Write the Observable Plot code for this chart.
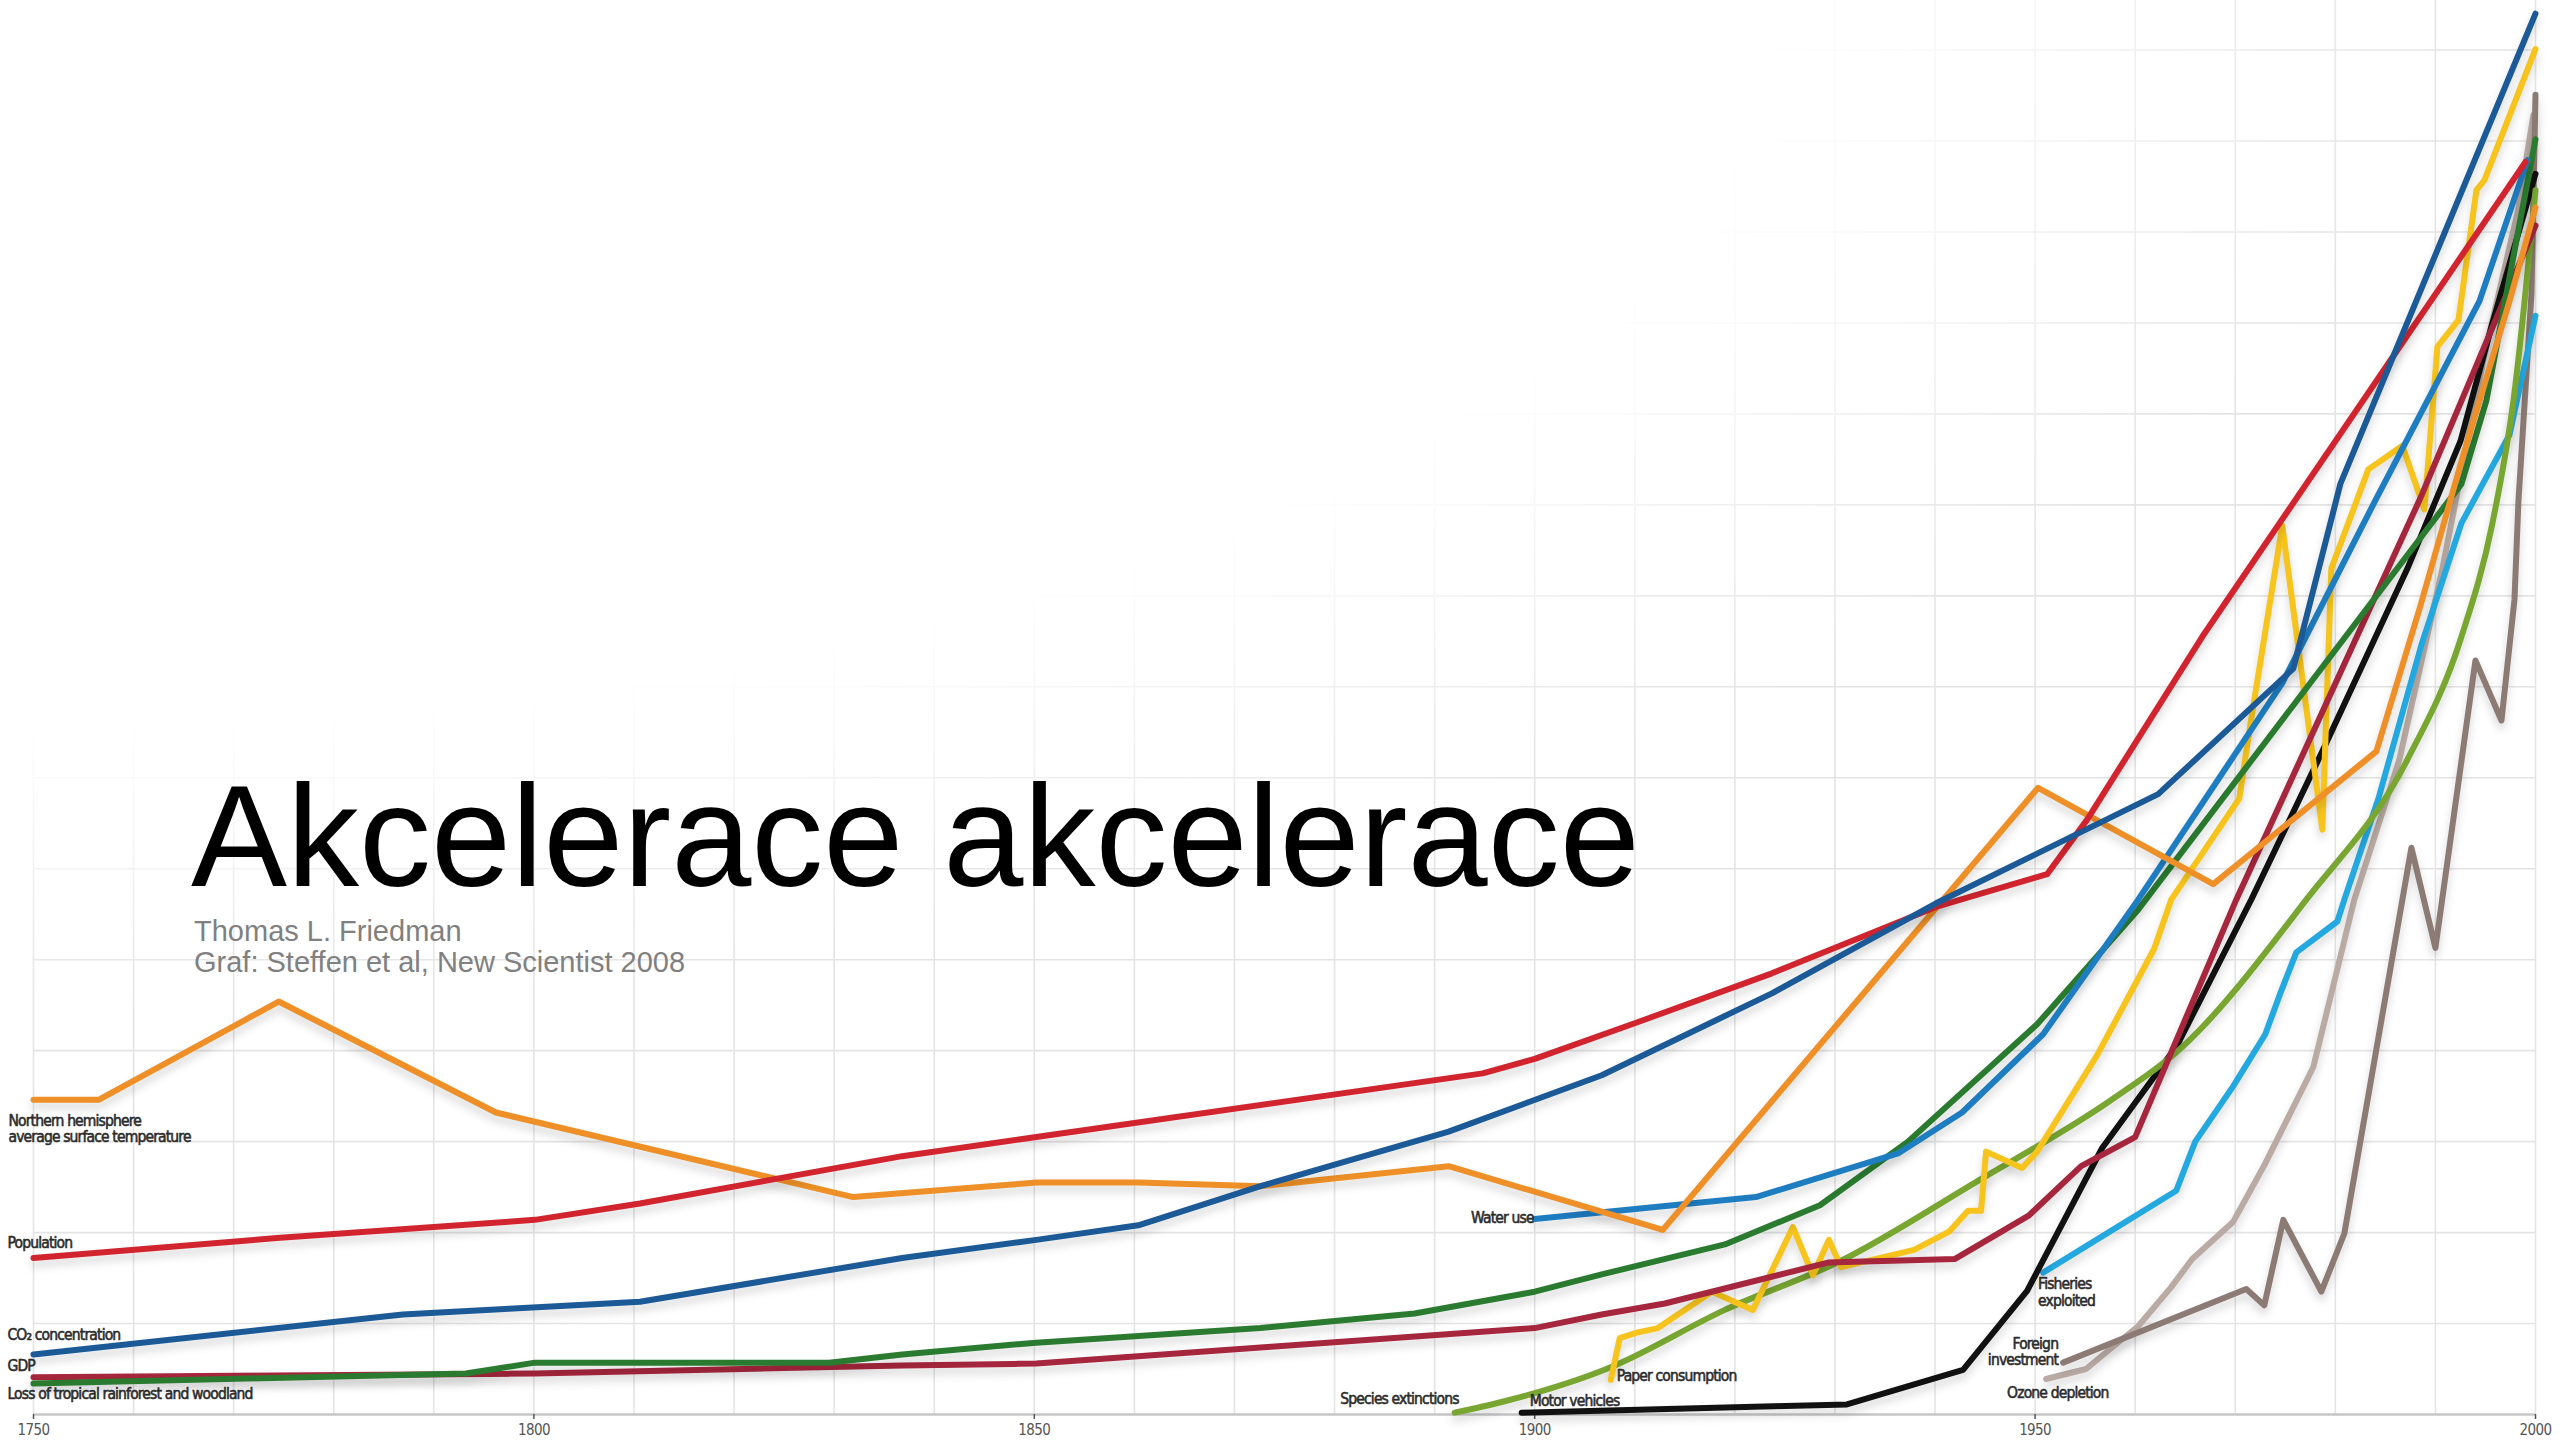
<!DOCTYPE html>
<html><head><meta charset="utf-8">
<script src="https://cdn.jsdelivr.net/npm/d3@7"></script>
<script src="https://cdn.jsdelivr.net/npm/@observablehq/plot@0.6"></script>
<style>
html,body{margin:0;padding:0;background:#fff;}
#wrap{position:relative;width:2560px;height:1440px;overflow:hidden;background:#fff;}
#title{position:absolute;left:191px;top:765px;font-family:"Liberation Sans",Arial,sans-serif;font-size:144px;line-height:144px;color:#000;white-space:nowrap;}
#sub{position:absolute;left:194px;top:916px;font-family:"Liberation Sans",Arial,sans-serif;font-size:29px;line-height:31px;color:#808080;white-space:nowrap;}
.series path{filter:drop-shadow(0px 6px 4px rgba(0,0,0,0.16));}
.lbl text{letter-spacing:-0.85px;}
.tk text{letter-spacing:-0.6px;}
</style></head>
<body>
<div id="wrap"><div id="chart"></div>
<div id="title">Akcelerace akcelerace</div>
<div id="sub">Thomas L. Friedman<br>Graf: Steffen et al, New Scientist 2008</div>
</div>
<script>
// ---- data (year, index value) ----
const temperature = [[1750,34.6],[1756.5,34.6],[1774.5,45.4],[1796.2,33.2],[1831.9,23.9],[1850.2,25.5],[1860.4,25.5],[1872.6,25.1],[1891.4,27.3],[1912.8,20.3],[1950.3,68.9],[1967.8,58.3],[1984.1,72.9],[1988.5,88.9],[1992.6,104.8],[1997.4,122.4],[2000,132.7]];
const population = [[1750,17.2],[1774.3,19.4],[1800.1,21.4],[1810.6,23.2],[1836.8,28.4],[1850.2,30.5],[1894.8,37.5],[1900,39.1],[1910.2,43.1],[1923.7,48.5],[1940.1,55.8],[1951.2,59.4],[1955.2,65.4],[1966.7,85.5],[1999,137.7]];
const co2 = [[1750,6.6],[1786.9,11.0],[1810.6,12.4],[1836.8,17.2],[1850.2,19.2],[1860.4,20.8],[1872.6,25.1],[1891.4,31.1],[1906.7,37.3],[1923.7,46.3],[1940.1,56.2],[1962.3,68.2],[1975.8,82.0],[1980.5,102.3],[2000,154.0]];
const waterUse = [[1900,21.5],[1922.1,23.9],[1936.3,28.7],[1942.7,33.2],[1950.8,41.8],[1960.3,56.6],[1974.7,80.4],[1984,100.5],[1994.4,122.4],[1999.2,137.9]];
const gdp = [[1750,4.1],[1800.1,4.5],[1836.8,5.4],[1850.2,5.6],[1900,9.5],[1906.7,11.0],[1913,12.2],[1929.3,16.7],[1942,17.1],[1949.4,21.9],[1954.6,27.3],[1960,30.5],[1970.1,56.6],[1988.4,100.5],[2000,130.7]];
const rainforest = [[1750,3.4],[1793.2,4.5],[1800.1,5.7],[1829.5,5.7],[1836.8,6.6],[1850.2,7.9],[1872.6,9.5],[1888,11.1],[1900,13.5],[1906.7,15.4],[1919,18.7],[1928.5,23.0],[1937.3,30.0],[1950.2,42.9],[1960.3,55.5],[1992.6,102.3],[1995.1,111.5],[2000,140.2]];
const paper = [[1907.6,3.8],[1908.5,8.4],[1910.2,9.0],[1912.3,9.5],[1917.7,13.5],[1921.8,11.5],[1925.8,20.6],[1927.8,15.3],[1929.4,19.2],[1930.6,16.2],[1937.9,18.1],[1941.4,20.1],[1943.3,22.4],[1944.6,22.4],[1945.1,28.9],[1948.7,27.1],[1950.2,28.9],[1956.2,39.5],[1961.9,51.2],[1963.6,56.6],[1970.4,67.7],[1971.6,76.5],[1974.7,97.7],[1978.7,64.3],[1979.6,93.0],[1983.3,103.9],[1986.7,106.5],[1988.9,99.5],[1990.2,117.4],[1992.3,120.3],[1994.1,134.6],[1994.9,135.7],[2000,150.1]];
const species = [[1892,0.2],[1896.8,1.4],[1907.6,5.2],[1919,11.5],[1930.6,16.9],[1944,25.5],[1957.5,34.5],[1964.2,39.9],[1977.1,56.6],[1987.2,72.0],[1992.6,85.5],[1995.7,98.0],[1997.8,111.5],[2000,134.6]];
const motorVehicles = [[1898.7,0.2],[1931.2,1.1],[1942.8,4.9],[1949.2,13.6],[1956.7,29.3],[1964.2,40.6],[1971.6,56.6],[1978.7,72.9],[1987.2,93.0],[1992.5,107.0],[1995.6,119.6],[2000,136.4]];
const fisheries = [[1950.8,15.6],[1964.1,24.6],[1966,30.0],[1969.8,36.1],[1973,41.8],[1974.5,46.3],[1976.1,50.8],[1980.2,54.2],[1980.9,56.6],[1984.3,67.7],[1988.6,84.6],[1992.6,98.0],[1997.4,107.7],[2000,120.8]];
const foreignInvestment = [[1952.8,5.7],[1971.1,13.8],[1972.9,12.0],[1974.8,21.4],[1978.6,13.5],[1980.9,19.9],[1987.6,62.3],[1990,51.3],[1994,82.9],[1996.6,76.3],[1997.9,89.6],[1998.3,100.5],[1999.6,123.2],[2000,145.1]];
const ozone = [[1951.1,3.9],[1955.1,5.0],[1957.5,7.2],[1960.3,9.7],[1963.6,14.0],[1965.7,17.1],[1969.8,21.2],[1973,27.6],[1977.8,38.2],[1981.9,56.6],[1986.4,72.0],[1990.7,93.0],[1994.8,116.0],[1998.2,132.1],[1999.8,142.9]];

const axisYears = [1750, 1800, 1850, 1900, 1950, 2000];
const gridYears = [1750,1760,1770,1780,1790,1800,1810,1820,1830,1840,1850,1860,1870,1880,1890,1900,1910,1920,1930,1940,1950,1960,1970,1980,1990,2000];
const gridValues = [10,20,30,40,50,60,70,80,90,100,110,120,130,140,150];

// labels: text with the (year, value) where it sits
const labelsStart = [
  {text: "Northern hemisphere", year: 1747.5, value: 32.3},
  {text: "average surface temperature", year: 1747.5, value: 30.5},
  {text: "Population", year: 1747.4, value: 18.9},
  {text: "CO\u2082 concentration", year: 1747.4, value: 8.7},
  {text: "GDP", year: 1747.4, value: 5.3},
  {text: "Loss of tropical rainforest and woodland", year: 1747.4, value: 2.2},
  {text: "Paper consumption", year: 1908.2, value: 4.2},
  {text: "Motor vehicles", year: 1899.5, value: 1.5},
  {text: "Fisheries", year: 1950.3, value: 14.3},
  {text: "exploited", year: 1950.3, value: 12.5},
  {text: "Ozone depletion", year: 1947.2, value: 2.4}
];
const labelsEnd = [
  {text: "Water use", year: 1899.9, value: 21.6},
  {text: "Species extinctions", year: 1892.4, value: 1.7},
  {text: "Foreign", year: 1952.3, value: 7.8},
  {text: "investment", year: 1952.3, value: 6.0}
];

// ---- styles ----
const seriesStyle = [
  [ozone, "#B9ABA4"],
  [foreignInvestment, "#8C7B74"],
  [fisheries, "#23A8E0"],
  [motorVehicles, "#111111"],
  [species, "#78A631", "monotone-x"],
  [paper, "#F6C41C"],
  [gdp, "#A5263D"],
  [rainforest, "#2A7B30"],
  [waterUse, "#1E7CC0"],
  [temperature, "#EE9027"],
  [population, "#D1242F"],
  [co2, "#1B5A97"]
];

function fade(index, scales, values, dimensions, context) {
  const ns = "http://www.w3.org/2000/svg";
  const g = context.document.createElementNS(ns, "g");
  g.innerHTML = `<defs><radialGradient id="fadeGrad" cx="0" cy="0" r="1" gradientUnits="userSpaceOnUse" gradientTransform="scale(2450,1010)"><stop offset="0.72" stop-color="#fff" stop-opacity="1"/><stop offset="1" stop-color="#fff" stop-opacity="0"/></radialGradient></defs><rect x="0" y="0" width="${dimensions.width}" height="${dimensions.height}" fill="url(#fadeGrad)"/>`;
  return g;
}

const font = '"Liberation Sans Narrow","DejaVu Sans Condensed",sans-serif';
const labelStyle = {fontSize: 15.5, fill: "#2b2b2b", stroke: "#2b2b2b", strokeWidth: 0.55, className: "lbl"};

const chart = Plot.plot({
  width: 2560, height: 1440,
  marginLeft: 33, marginRight: 25, marginTop: 0, marginBottom: 26,
  style: {fontFamily: font, background: "transparent", overflow: "visible"},
  x: {domain: [1750, 2000], axis: null},
  y: {domain: [0, 155.45], axis: null},
  marks: [
    Plot.ruleX(gridYears, {stroke: "#e4e4e4", strokeWidth: 1.6}),
    Plot.ruleY(gridValues, {stroke: "#e4e4e4", strokeWidth: 1.6}),
    fade,
    Plot.ruleY([0], {stroke: "#c6c6c6", strokeWidth: 2.5}),
    Plot.axisX(axisYears, {tickFormat: d => String(d), tickSize: 5, tickPadding: 5, fontSize: 15, color: "#555", strokeWidth: 1.5, label: null, className: "tk"}),
    ...seriesStyle.map(([data, color, curve]) => Plot.line(data, {
      x: d => d[0], y: d => d[1], stroke: color, strokeWidth: 6,
      strokeLinejoin: "round", strokeLinecap: "round", curve: curve || "linear", className: "series"
    })),
    Plot.text(labelsStart, {x: "year", y: "value", text: "text", textAnchor: "start", lineAnchor: "middle", ...labelStyle}),
    Plot.text(labelsEnd, {x: "year", y: "value", text: "text", textAnchor: "end", lineAnchor: "middle", ...labelStyle})
  ]
});
document.getElementById("chart").appendChild(chart);
</script>
</body></html>
